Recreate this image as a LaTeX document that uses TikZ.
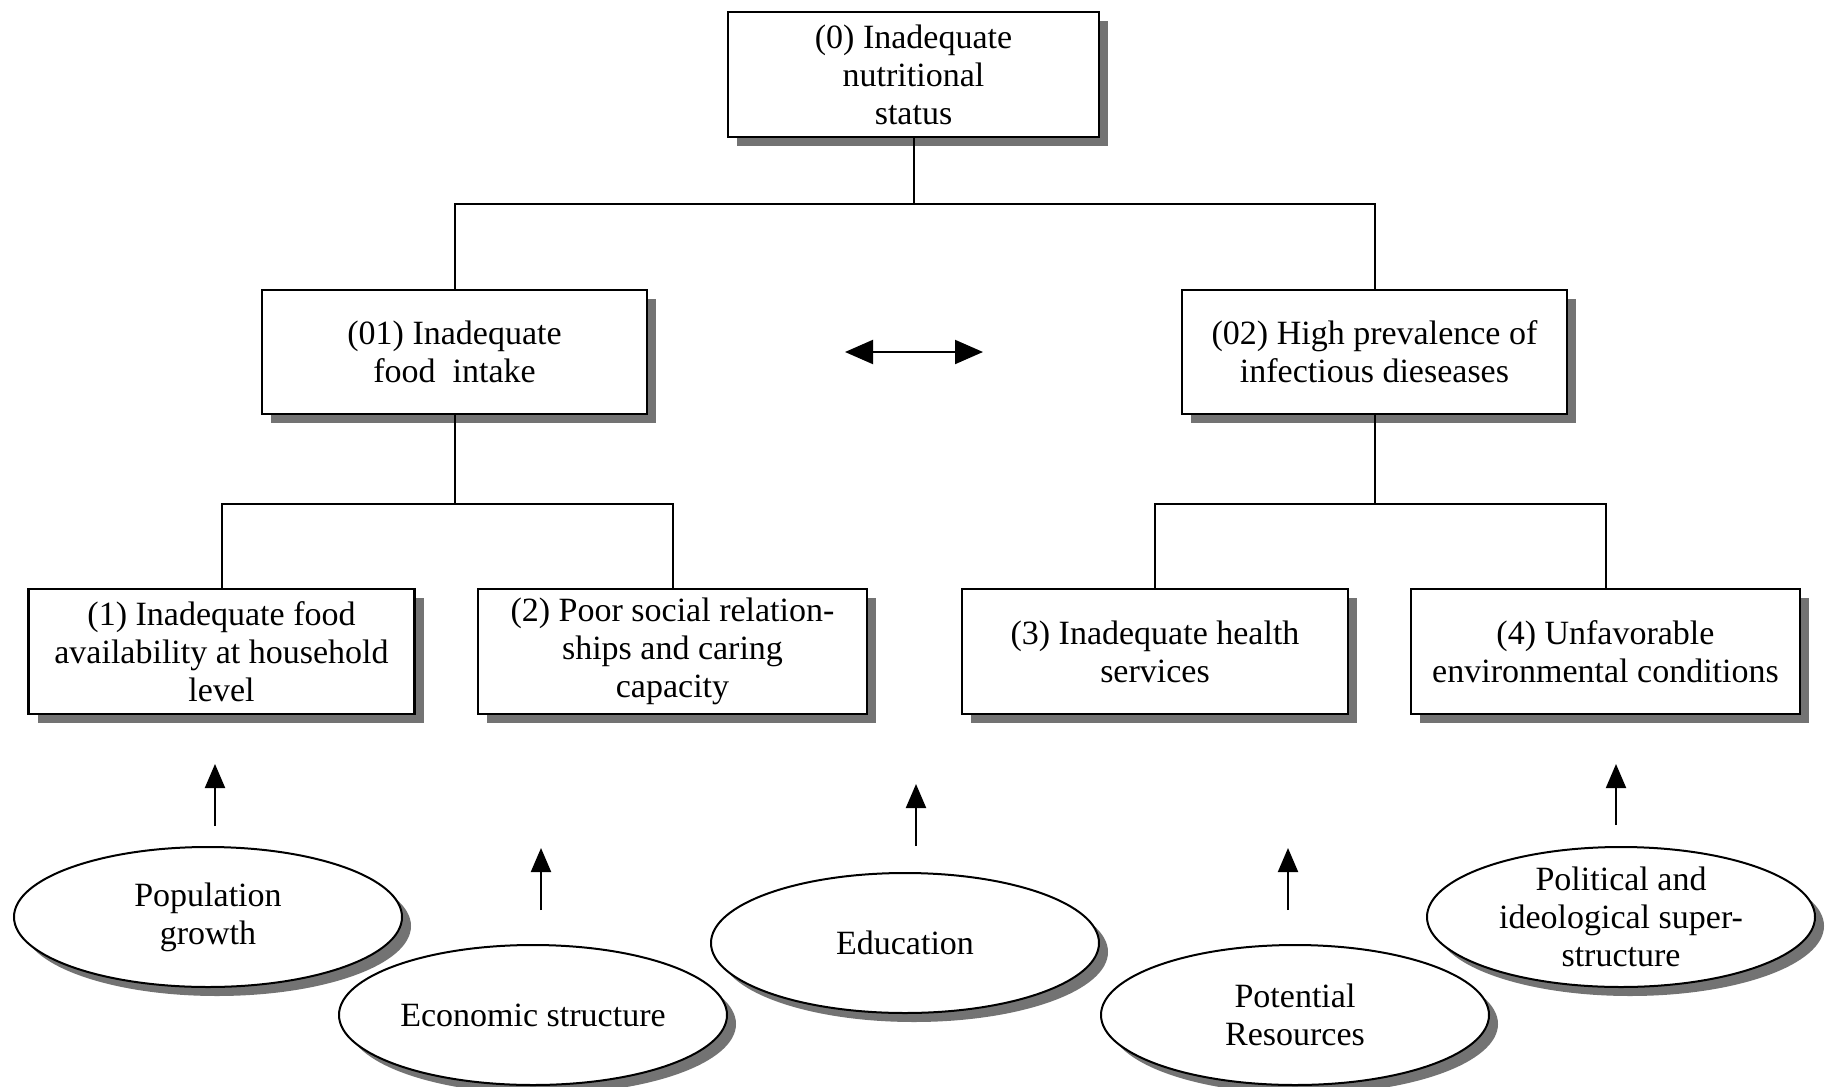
\documentclass[tikz,border=0pt]{standalone}
\usepackage{fontspec}
\setmainfont{Liberation Serif}
\usetikzlibrary{shapes.geometric,shadows,arrows.meta}
\begin{document}
\begin{tikzpicture}[x=1pt,y=-1pt,
  every node/.style={font=\fontsize{34}{38}\selectfont, align=center},
  shade box/.style={drop shadow={shadow xshift=9pt, shadow yshift=-9pt, fill=black!55, opacity=1}},
  box/.style={draw, line width=2.4pt, fill=white, minimum width=385pt,
    minimum height=124pt, inner sep=0pt, shade box},
  ell/.style={ellipse, draw, line width=2pt, fill=white, minimum width=388pt,
    minimum height=140pt, inner sep=0pt, shade box, label={center:#1}},
  link/.style={line width=2pt},
  uparrow/.style={line width=2pt, -{Triangle[length=24pt,width=20pt]}},
  both/.style={line width=2pt, {Triangle[length=28pt,width=24pt]}-{Triangle[length=28pt,width=24pt]}},
]
\fill[white] (0,0) rectangle (1829,1087);
\useasboundingbox (0,0) rectangle (1829,1087);

% problem tree boxes
\node[box, minimum width=371pt, minimum height=125pt] (b0) at (913.5,74.5)
  {(0) Inadequate\\nutritional\\status};
\node[box] (b01) at (454.5,352) {(01) Inadequate\\food\ \ intake};
\node[box] (b02) at (1374.5,352) {(02) High prevalence of\\infectious dieseases};
\node[box, minimum width=386pt, minimum height=125pt] (b1) at (221.5,651.5)
  {(1) Inadequate food\\availability at household\\level};
\node[box, minimum width=389pt, minimum height=125pt] (b2) at (672.5,651.5)
  {(2) Poor social relation-\\ships and caring\\capacity};
\node[box, minimum width=386pt, minimum height=125pt] (b3) at (1155,651.5)
  {(3) Inadequate health\\services};
\node[box, minimum width=389pt, minimum height=125pt] (b4) at (1605.5,651.5)
  {(4) Unfavorable\\environmental conditions};

% junctions of the tree
\coordinate (j0) at (913.5,204);
\coordinate (j1) at (454.5,504);
\coordinate (j2) at (1374.5,504);

\draw[link] (b0.south) -- (j0);
\draw[link] (b01.north) |- (j0) -| (b02.north);
\draw[link] (b01.south) -- (j1);
\draw[link] (b1.north) |- (j1) -| (b2.north);
\draw[link] (b02.south) -- (j2);
\draw[link] (b3.north) |- (j2) -| (b4.north);

% interaction between intake and disease
\coordinate (dl) at (845,352);
\coordinate (dr) at (983,352);
\draw[both] (dl) -- (dr);

% underlying factors
\node[ell={Population\\growth}] (e1) at (208,917) {};
\node[ell={Economic structure}] (e2) at (533,1015) {};
\node[ell={Education}] (e3) at (905,943) {};
\node[ell={Potential\\Resources}] (e4) at (1295,1015) {};
\node[ell={Political and\\ideological super-\\structure}] (e5) at (1621,917) {};

\coordinate (a1s) at (215,826); \coordinate (a1t) at (215,764);
\coordinate (a2s) at (541,910); \coordinate (a2t) at (541,848);
\coordinate (a3s) at (916,846); \coordinate (a3t) at (916,784);
\coordinate (a4s) at (1288,910); \coordinate (a4t) at (1288,848);
\coordinate (a5s) at (1616,825); \coordinate (a5t) at (1616,764);
\draw[uparrow] (a1s) -- (a1t);
\draw[uparrow] (a2s) -- (a2t);
\draw[uparrow] (a3s) -- (a3t);
\draw[uparrow] (a4s) -- (a4t);
\draw[uparrow] (a5s) -- (a5t);
\end{tikzpicture}
\end{document}
